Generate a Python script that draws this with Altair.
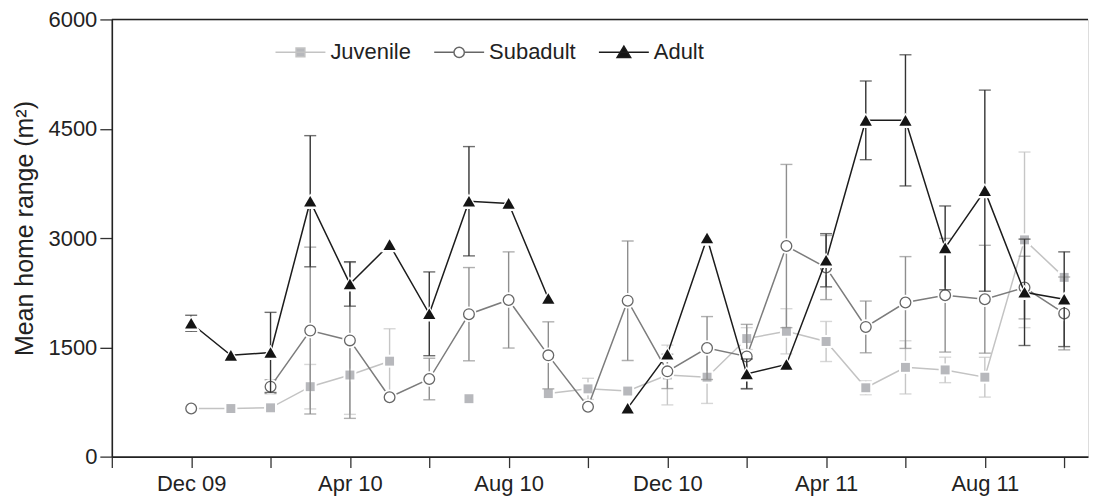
import altair as alt
import pandas as pd

# ---------------- data ----------------
months = ["Dec 09", "Jan 10", "Feb 10", "Mar 10", "Apr 10", "May 10", "Jun 10", "Jul 10",
          "Aug 10", "Sep 10", "Oct 10", "Nov 10", "Dec 10", "Jan 11", "Feb 11", "Mar 11",
          "Apr 11", "May 11", "Jun 11", "Jul 11", "Aug 11", "Sep 11", "Oct 11"]
first_month_index = 2  # months counted from Oct 09 (= 0)
groups = ["Juvenile", "Subadult", "Adult"]

juvenile_mean = [660, 660, 670, 960, 1120, 1310, None, 795, None, 865, 930, 900,
                 1120, 1090, 1620, 1720, 1580, 945, 1225, 1190, 1090, 2975, 2460]
juvenile_se = [None, None, None, 305, 540, 445, None, None, None, None, 145, None,
               410, 360, 150, 310, 275, 95, 365, 175, 273, 1205, None]
subadult_mean = [660, None, 960, 1730, 1595, 815, 1065, 1955, 2150, 1390, 685, 2140,
                 1170, 1490, 1375, 2890, 2595, 1780, 2115, 2215, 2160, 2320, 1965]
subadult_se = [None, None, 95, 1145, 1070, None, 285, 640, 660, 460, None, 820,
               236, 432, 440, 1120, 440, 355, 630, 780, 740, 430, 500]
adult_mean = [1830, 1390, 1430, 3505, 2370, 2910, 1960, 3505, 3475, 2170, None, 665,
              1405, 3000, 1135, 1265, 2695, 4615, 4615, 2865, 3650, 2255, 2160]
adult_se = [110, None, 550, 900, 305, None, 575, 750, None, None, None, None,
            None, None, 205, None, 365, 540, 900, 575, 1380, 730, 650]

tick_values = list(range(0, 25, 2))
label_values = [2, 6, 10, 14, 18, 22]
label_texts = ["Dec 09", "Apr 10", "Aug 10", "Dec 10", "Apr 11", "Aug 11"]
y_ticks = [0, 1500, 3000, 4500, 6000]
y_title = "Mean home range (m²)"

# ---------------- build table ----------------
series = {"Juvenile": (juvenile_mean, juvenile_se),
          "Subadult": (subadult_mean, subadult_se),
          "Adult": (adult_mean, adult_se)}
rows = []
for g in groups:
    means, ses = series[g]
    seg = 0
    for i, (mn, se) in enumerate(zip(means, ses)):
        if mn is None:
            seg += 1
            continue
        rows.append({"m": first_month_index + i, "month": months[i], "group": g,
                     "mean": mn, "se": se,
                     "lo": (mn - se) if se is not None else None,
                     "hi": (mn + se) if se is not None else None,
                     "seg": f"{g}-{seg}"})
df = pd.DataFrame(rows)

# ---------------- styles ----------------
style = {
    "Juvenile": dict(line="#c3c3c3", err="#c6c6c6", shape="square", size=80,
                     fill="#b7b8bc", stroke="#b7b8bc", sw=0),
    "Subadult": dict(line="#7c7c7c", err="#8e8e8e", shape="circle", size=115,
                     fill="#ffffff", stroke="#666666", sw=1.3),
    "Adult": dict(line="#1c1c1c", err="#333333", shape="triangle-up", size=150,
                  fill="#151515", stroke="#151515", sw=0),
}
legend_paths = {
    "Juvenile": "M-6.25,0H6.25M-1.1,-1.1H1.1V1.1H-1.1Z",
    "Subadult": "M-6.25,0H-1.3M1.3,0H6.25M-1.3,0A1.3,1.3,0,1,0,1.3,0A1.3,1.3,0,1,0,-1.3,0Z",
    "Adult": "M-6.25,0H6.25M0,-1.55L1.7,1.3H-1.7Z",
}

FONT = "Liberation Sans"
label_expr = " : ".join(f"datum.value == {v} ? '{t}'" for v, t in zip(label_values, label_texts)) + " : ''"

x_axis = alt.Axis(values=tick_values, labelExpr=label_expr, title=None, grid=False,
                  tickSize=11, tickColor="#333333", tickWidth=1.3,
                  domainColor="#222222", domainWidth=1.6,
                  labelFontSize=22, labelFont=FONT, labelColor="#222222",
                  labelPadding=6, labelOverlap=False, labelFlush=False)
y_axis = alt.Axis(values=y_ticks, format="d", title=y_title, grid=False,
                  tickSize=12, tickColor="#333333", tickWidth=1.3,
                  domainColor="#222222", domainWidth=1.6,
                  labelFontSize=22, labelFont=FONT, labelColor="#222222", labelPadding=3,
                  titleFontSize=25, titleFont=FONT, titleColor="#222222",
                  titleFontWeight="normal", titlePadding=11, titleY=209)

X = alt.X("m:Q", scale=alt.Scale(domain=[0, 24.6], nice=False, zero=False), axis=x_axis)


def Y(field):
    return alt.Y(f"{field}:Q", scale=alt.Scale(domain=[y_ticks[0], y_ticks[-1]], nice=False),
                 axis=y_axis)


layers = []
# top frame line
layers.append(alt.Chart(pd.DataFrame({"v": [y_ticks[-1]]}))
              .mark_rule(color="#222222", strokeWidth=1.6).encode(y=Y("v")))

for g in groups:
    s = style[g]
    sub = df[df.group == g]
    err = sub.dropna(subset=["se"])
    layers.append(alt.Chart(err).mark_rule(color=s["err"], strokeWidth=1.4)
                  .encode(x=X, y=Y("lo"), y2="hi:Q"))
    for end in ["lo", "hi"]:
        layers.append(alt.Chart(err).mark_tick(color=s["err"], orient="horizontal",
                                               size=12, thickness=1.4)
                      .encode(x=X, y=Y(end)))
    layers.append(alt.Chart(sub).mark_line(color=s["line"], strokeWidth=1.5)
                  .encode(x=X, y=Y("mean"), detail="seg:N", order="m:Q"))
    layers.append(alt.Chart(sub).mark_point(shape=s["shape"], size=s["size"] * 2.1,
                                            filled=True, fill="white", opacity=1, strokeWidth=0)
                  .encode(x=X, y=Y("mean")))
    layers.append(alt.Chart(sub).mark_point(shape=s["shape"], size=s["size"], filled=True,
                                            fill=s["fill"], stroke=s["stroke"],
                                            strokeWidth=s["sw"], opacity=1)
                  .encode(x=X, y=Y("mean")))

# legend layer (no marks drawn, only the legend)
legend = alt.Legend(orient="none", legendX=178, legendY=22, direction="horizontal",
                    title=None, labelFontSize=22, labelFont=FONT, labelColor="#222222",
                    symbolSize=64, symbolStrokeWidth=1.5, labelOffset=19,
                    columnPadding=20, padding=0, symbolOpacity=1)
leg_df = pd.DataFrame({"group": groups})
layers.append(alt.Chart(leg_df).transform_filter("false")
              .mark_point(opacity=1, strokeWidth=1.5)
              .encode(shape=alt.Shape("group:N", scale=alt.Scale(domain=groups,
                                      range=[legend_paths[g] for g in groups]), legend=legend),
                      fill=alt.Fill("group:N", scale=alt.Scale(domain=groups,
                                    range=[style[g]["fill"] for g in groups]), legend=legend),
                      stroke=alt.Stroke("group:N", scale=alt.Scale(domain=groups,
                                        range=[style[g]["line"] if g != "Subadult" else style[g]["stroke"] for g in groups]),
                                        legend=legend)))

chart = (alt.layer(*layers)
         .properties(width=978, height=438, autosize=alt.AutoSizeParams(type="none"),
                     padding={"left": 104, "top": 11, "right": 4, "bottom": 41})
         .configure_view(stroke=None)
         .configure(background="white"))

chart.save("out.html", embed_options={"renderer": "svg", "actions": False})
